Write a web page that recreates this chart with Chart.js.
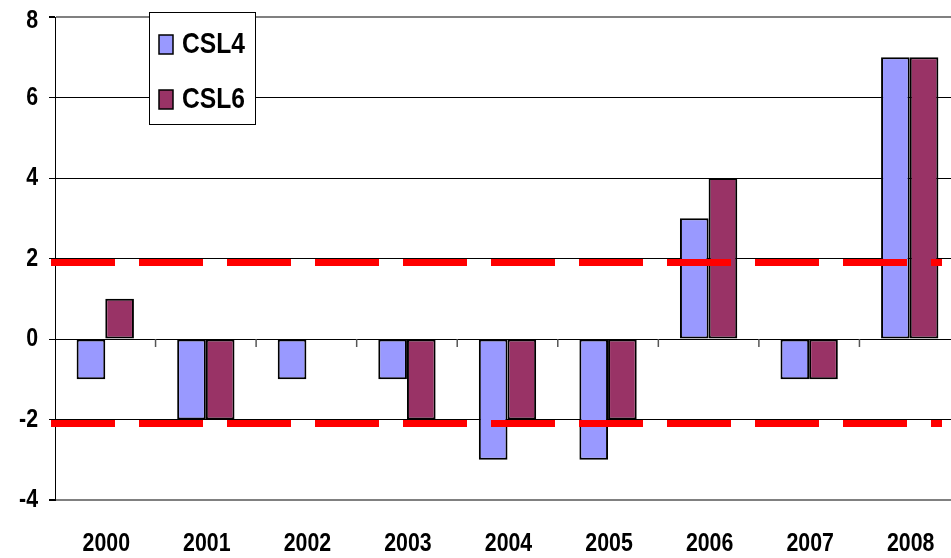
<!DOCTYPE html>
<html>
<head>
<meta charset="utf-8">
<script src="https://cdn.jsdelivr.net/npm/chart.js@4"></script>
<style>
html,body{margin:0;padding:0;background:#fff;overflow:hidden;}
</style>
</head>
<body>
<canvas id="grafik" width="960" height="558"></canvas>
<script>
/* data */
const years=["2000","2001","2002","2003","2004","2005","2006","2007","2008"];
const csl4=[-1,-2,-1,-1,-3,-3,3,-1,7];
const csl6=[1,-2,null,-2,-2,-2,4,-1,7];
const batas=[1.9,-2.1];
const yTicks=[-4,-2,0,2,4,6,8];

const hurufTick="bold 26px 'Liberation Sans',Arial,sans-serif";
const hurufLegend="bold 30px 'Liberation Sans',Arial,sans-serif";
const sempit=0.82; // narrow look like Arial Narrow

function tulisSempit(c,teks,x,y,align){
c.save();
c.translate(x,y);
c.scale(sempit,1);
c.textAlign=align;
c.fillText(teks,0,0);
c.restore();
}

// red dashed limits + small ticks on the zero line
const garisBatas={
id:"garisBatas",
afterDatasetsDraw(chart){
const c=chart.ctx,a=chart.chartArea,x=chart.scales.x,y=chart.scales.y;
const y0=y.getPixelForValue(0);
c.save();
c.strokeStyle="#555";
c.lineWidth=1.5;
for(let i=1;i<years.length;i++){
const bx=(x.getPixelForValue(i-1)+x.getPixelForValue(i))/2;
c.beginPath();
c.moveTo(bx,y0);
c.lineTo(bx,y0+8);
c.stroke();
}
c.strokeStyle="#ff0000";
c.lineWidth=7;
c.setLineDash([64,24]);
batas.forEach(function(v){
const py=y.getPixelForValue(v);
c.beginPath();
c.moveTo(a.left-4,py);
c.lineTo(a.right-18,py);
c.stroke();
});
c.restore();
}
};

// axis labels, narrow bold
const labelSumbu={
id:"labelSumbu",
afterDraw(chart){
const c=chart.ctx,a=chart.chartArea,x=chart.scales.x,y=chart.scales.y;
c.save();
c.fillStyle="#000";
c.font=hurufTick;
c.textBaseline="middle";
y.ticks.forEach(function(t){
const py=Math.max(y.getPixelForValue(t.value),21);
tulisSempit(c,String(t.value),a.left-17,py,"right");
});
years.forEach(function(lab,i){
tulisSempit(c,lab,x.getPixelForValue(i)+1,a.bottom+44,"center");
});
c.restore();
}
};

// legend box inside the plot
const legendaBox={
id:"legendaBox",
afterDraw(chart){
const c=chart.ctx,a=chart.chartArea;
const bx=a.left+94,by=a.top-5,bw=106,bh=112;
c.save();
c.fillStyle="#fff";
c.fillRect(bx,by,bw,bh);
c.strokeStyle="#000";
c.lineWidth=1;
c.strokeRect(bx+0.5,by+0.5,bw,bh);
c.font=hurufLegend;
c.textBaseline="middle";
chart.data.datasets.forEach(function(ds,i){
const cy=by+32+i*55;
c.fillStyle=ds.backgroundColor;
c.fillRect(bx+10,cy-9,14,19);
c.strokeStyle="#000";
c.lineWidth=1.5;
c.strokeRect(bx+10,cy-9,14,19);
c.fillStyle="#000";
tulisSempit(c,ds.label,bx+33,cy+1,"left");
});
c.restore();
}
};

new Chart(document.getElementById("grafik"),{
type:"bar",
data:{
labels:years,
datasets:[{
label:"CSL4",
data:csl4,
backgroundColor:"#9999ff",
borderColor:"#000",
borderWidth:2,
borderSkipped:false
},{
label:"CSL6",
data:csl6,
backgroundColor:"#993366",
borderColor:"#000",
borderWidth:2,
borderSkipped:false
}]
},
options:{
responsive:false,
animation:false,
categoryPercentage:0.57,
barPercentage:1,
layout:{padding:{top:17,right:0,left:0,bottom:0}},
plugins:{
legend:{display:false},
tooltip:{enabled:false}
},
scales:{
x:{
grid:{display:false,drawTicks:false},
border:{display:false},
ticks:{display:false},
afterFit:function(s){s.height=58;}
},
y:{
min:-4,
max:8,
afterBuildTicks:function(s){s.ticks=yTicks.map(function(v){return {value:v};});},
grid:{
color:function(ctx){return (ctx.tick&&(ctx.tick.value===8||ctx.tick.value===-4))?"#808080":"#000";},
lineWidth:function(ctx){return (ctx.tick&&(ctx.tick.value===8||ctx.tick.value===-4))?2:1;},
tickColor:"#000",
tickLength:6
},
border:{display:true,color:"#000",width:1},
ticks:{display:false},
afterFit:function(s){s.width=55;}
}
}
},
plugins:[garisBatas,labelSumbu,legendaBox]
});
</script>
</body>
</html>
